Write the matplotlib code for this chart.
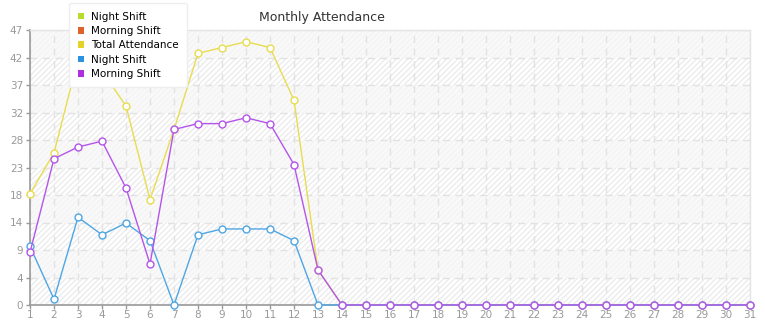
import numpy as np
import matplotlib.pyplot as plt
from matplotlib.patches import Patch

# days of the month
days = list(range(1, 32))

# attendance per day
night_shift = [10, 1, 15, 12, 14, 11, 0, 12, 13, 13, 13, 11, 0] + [0] * 18
morning_shift = [9, 25, 27, 28, 20, 7, 30, 31, 31, 32, 31, 24, 6] + [0] * 18
total_attendance = [19, 26, 42, 40, 34, 18, 30, 43, 44, 45, 44, 35, 6] + [0] * 18

y_max = 47
y_ticks = [y_max * i / 10 for i in range(11)]
y_labels = [str(int(np.floor(t + 1e-9))) for t in y_ticks]

legend_names = ['Night Shift', 'Morning Shift', 'Total Attendance', 'Night Shift', 'Morning Shift']
legend_colors = ['#b8dc2a', '#e0622a', '#e4d22a', '#2a92e0', '#b02ee0']

c_total = '#e8dc50'
c_night = '#4fa6e4'
c_morning = '#b455ea'

fig = plt.figure(figsize=(7.65, 3.2), dpi=100)
ax = fig.add_axes([30 / 765, 15 / 320, 720 / 765, 275 / 320])

# hatched background with alternating bands
ax.set_facecolor('white')
ax.axhspan(0, y_max, facecolor='none', edgecolor='#ececec', hatch='//////', linewidth=0, zorder=0)
for i in range(10):
    if i % 2 == 1:
        ax.axhspan(y_ticks[i], y_ticks[i + 1], facecolor='#f7f7f7', alpha=0.75, linewidth=0, zorder=0.5)

ax.grid(True, color='#e2e2e2', linestyle=(0, (5, 4)), linewidth=1, zorder=1)

mk = dict(marker='o', markersize=5, markerfacecolor='white', markeredgewidth=1, clip_on=False, zorder=3)
ax.plot(days, total_attendance, color=c_total, linewidth=1, **mk)
ax.plot(days, night_shift, color=c_night, linewidth=1, **mk)
ax.plot(days, morning_shift, color=c_morning, linewidth=1, **mk)

ax.set_xlim(1, 31)
ax.set_ylim(0, y_max)
ax.set_xticks(days)
ax.set_xticklabels([str(d) for d in days])
ax.set_yticks(y_ticks)
ax.set_yticklabels(y_labels)
ax.tick_params(colors='#999999', labelsize=7.5, length=3, width=1, pad=2)
ax.tick_params(axis='x', pad=0.5)

for s in ['left', 'bottom']:
    ax.spines[s].set_color('#999999')
    ax.spines[s].set_linewidth(1.2)
for s in ['top', 'right']:
    ax.spines[s].set_color('#e4e4e4')
    ax.spines[s].set_linewidth(1)

fig.text(322 / 765, 1 - 17 / 320, 'Monthly Attendance', ha='center', va='center',
         fontsize=9, color='#333333')

handles = [Patch(facecolor=c, edgecolor='none') for c in legend_colors]
leg = fig.legend(handles, legend_names, loc='upper left', bbox_to_anchor=(64 / 765, 1 + 2 / 320),
                 fontsize=7.5, frameon=True, fancybox=True, handlelength=0.6, handleheight=0.6,
                 handletextpad=0.7, labelspacing=0.42, borderpad=0.8, framealpha=1)
leg.get_frame().set_edgecolor('#eeeeee')
leg.set_zorder(10)

fig.savefig('out.png', dpi=100)
